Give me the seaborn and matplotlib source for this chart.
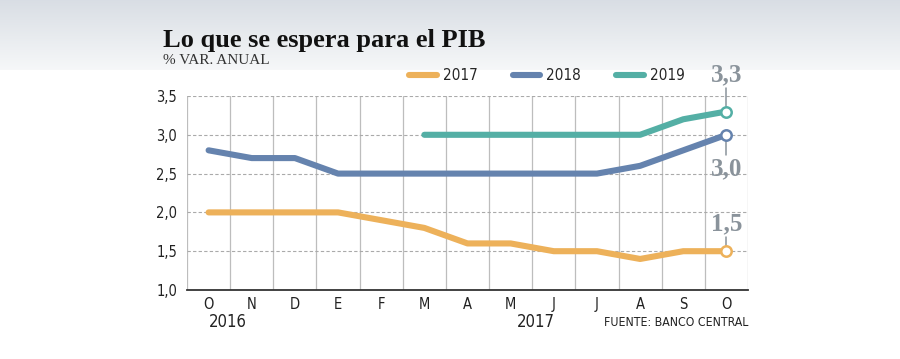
import numpy as np
import pandas as pd
import seaborn as sns
import matplotlib.pyplot as plt
from matplotlib.lines import Line2D

# data
months = ["O", "N", "D", "E", "F", "M", "A", "M", "J", "J", "A", "S", "O"]
exp_2017 = [2.0, 2.0, 2.0, 2.0, 1.9, 1.8, 1.6, 1.6, 1.5, 1.5, 1.4, 1.5, 1.5]
exp_2018 = [2.8, 2.7, 2.7, 2.5, 2.5, 2.5, 2.5, 2.5, 2.5, 2.5, 2.6, 2.8, 3.0]
exp_2019 = [None, None, None, None, None, 3.0, 3.0, 3.0, 3.0, 3.0, 3.0, 3.2, 3.3]
series_names = ["2017", "2018", "2019"]
colors = {"2017": "#EDB15A", "2018": "#6583AE", "2019": "#54AFA5"}
yticks = [1.0, 1.5, 2.0, 2.5, 3.0, 3.5]

rows = []
for name, vals in zip(series_names, [exp_2017, exp_2018, exp_2019]):
    for i, v in enumerate(vals):
        if v is not None:
            rows.append({"pos": i, "valor": v, "serie": name})
df = pd.DataFrame(rows)

sns.set_style("white")
plt.rcParams["font.family"] = ["DejaVu Sans"]
plt.rcParams["font.stretch"] = "condensed"
serif = ["Liberation Serif", "DejaVu Serif"]

fig = plt.figure(figsize=(9, 3.59), dpi=100)

# soft blue-grey gradient at the top of the card
bg = fig.add_axes([0, 0, 1, 1], zorder=-10)
grad = np.ones((359, 1, 3))
t = np.linspace(0, 1, 70)[:, None]
top_c = np.array([0.85, 0.87, 0.895])
bot_c = np.array([0.965, 0.97, 0.975])
grad[:70, 0, :] = top_c + (bot_c - top_c) * t
bg.imshow(grad, aspect="auto", extent=[0, 1, 0, 1])
bg.axis("off")

ax = fig.add_axes([0.2078, 0.1922, 0.6233, 0.5404])
ax.patch.set_alpha(0)

sns.lineplot(data=df, x="pos", y="valor", hue="serie", palette=colors,
             linewidth=4.4, ax=ax, legend=False, zorder=3,
             solid_capstyle="round", solid_joinstyle="round")

# open circles at the last point
for name, vals in zip(series_names, [exp_2017, exp_2018, exp_2019]):
    ax.plot(len(vals) - 1, vals[-1], "o", ms=7.5, mfc="white",
            mec=colors[name], mew=1.8, zorder=5, clip_on=False)

ax.set_xlim(-0.5, 12.5)
ax.set_ylim(1.0, 3.5)
ax.set_xticks(range(len(months)))
ax.set_xticklabels(months)
ax.set_yticks(yticks)
ax.set_yticklabels([f"{v:.1f}".replace(".", ",") for v in yticks])
ax.tick_params(axis="both", length=0, labelsize=10.5, colors="#222222")
ax.tick_params(axis="x", pad=5)
ax.tick_params(axis="y", pad=7)
ax.set_xlabel("")
ax.set_ylabel("")

# vertical grid between months, dashed horizontal grid
for b in np.arange(-0.5, 12.6, 1):
    ax.axvline(b, color="#BDBDBD", lw=0.9, zorder=1)
for v in yticks[1:]:
    ax.axhline(v, color="#AAAAAA", lw=0.8, ls=(0, (3, 2)), zorder=1)

for s in ["top", "right", "left"]:
    ax.spines[s].set_visible(False)
ax.spines["bottom"].set_color("#333333")
ax.spines["bottom"].set_linewidth(1.3)

# end labels with short connectors
gray = "#8A939B"
lab_kw = dict(fontsize=18, fontweight="bold", color=gray, family=serif,
              ha="center", clip_on=False)
ax.plot([12, 12], [3.37, 3.60], color=gray, lw=1.1, zorder=2, clip_on=False)
ax.text(12, 3.63, "3,3", va="bottom", **lab_kw)
ax.plot([12, 12], [2.94, 2.74], color=gray, lw=1.1, zorder=2)
ax.text(12, 2.71, "3,0", va="top", **lab_kw)
ax.plot([12, 12], [1.56, 1.68], color=gray, lw=1.1, zorder=2)
ax.text(12, 1.71, "1,5", va="bottom", **lab_kw)

# legend
handles = [Line2D([0], [0], color=colors[n], lw=4.4, solid_capstyle="round")
           for n in series_names]
fig.legend(handles, series_names, loc="center left",
           bbox_to_anchor=(0.448, 0.79), ncol=3, frameon=False,
           fontsize=11, handlelength=1.8, columnspacing=2.3,
           handletextpad=0.4, borderaxespad=0)

# titles and notes
fig.text(163 / 900, 1 - 40 / 359, "Lo que se espera para el PIB",
         fontsize=19, fontweight="bold", va="center", family=serif,
         color="#111111")
fig.text(163 / 900, 1 - 60 / 359, "% VAR. ANUAL", fontsize=11,
         va="center", family=serif, color="#333333")
fig.text(228 / 900, 1 - 322 / 359, "2016", fontsize=12, ha="center",
         va="center", color="#222222")
fig.text(536 / 900, 1 - 322 / 359, "2017", fontsize=12, ha="center",
         va="center", color="#222222")
fig.text(748 / 900, 1 - 322 / 359, "FUENTE: BANCO CENTRAL", fontsize=8.8,
         ha="right", va="center", color="#222222")

fig.savefig("out.png", dpi=100)
